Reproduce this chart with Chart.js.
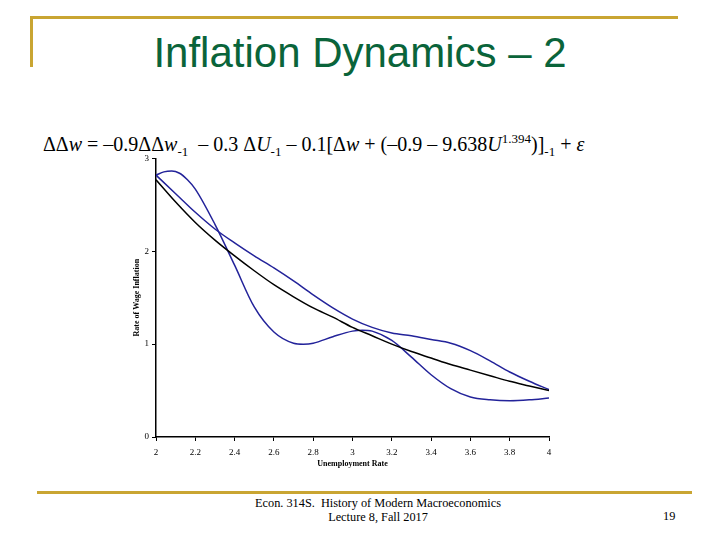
<!DOCTYPE html>
<html>
<head>
<meta charset="utf-8">
<script src="https://cdn.jsdelivr.net/npm/chart.js@4/dist/chart.umd.min.js"></script>
<style>
  body { margin: 0; background: #fff; }
  #slide { position: relative; width: 720px; height: 540px; overflow: hidden; background: #fff; }
  .gold { position: absolute; background: #c9a532; }
  #title { position: absolute; left: 0; width: 720px; top: 29px; text-align: center;
           font-family: "Liberation Sans", Arial, sans-serif; font-size: 42px; color: #0a643a; }
  #eq { position: absolute; left: 43px; top: 131px; font-family: "Liberation Serif", "Times New Roman", serif;
        font-size: 20px; color: #000; white-space: nowrap; }
  #eq sub, #eq sup { font-size: 13px; }
  #eq i { font-style: italic; }
  #chartBox { position: absolute; left: 120px; top: 150px; width: 440px; height: 325px; }
  .foot { position: absolute; font-family: "Liberation Serif", "Times New Roman", serif; font-size: 12.3px; color: #000; }
</style>
</head>
<body>
<div id="slide">
  <div class="gold" style="left:30px; top:16px; width:648px; height:3px;"></div>
  <div class="gold" style="left:30px; top:16px; width:3px; height:51px;"></div>
  <div id="title">Inflation Dynamics – 2</div>
  <div id="eq">ΔΔ<i>w</i> = –0.9ΔΔ<i>w</i><sub>-1</sub> &nbsp;– 0.3 Δ<i>U</i><sub>-1</sub> – 0.1[Δ<i>w</i> + (–0.9 – 9.638<i>U</i><sup>1.394</sup>)]<sub>-1</sub> + <i>ε</i></div>
  <div id="chartBox"><canvas id="chart01" width="440" height="325"></canvas></div>
  <div class="gold" style="left:37px; top:491px; width:655px; height:3px;"></div>
  <div class="foot" style="left:0; width:756px; top:496px; text-align:center;">Econ. 314S.&nbsp; History of Modern Macroeconomics</div>
  <div class="foot" style="left:0; width:756px; top:510px; text-align:center;">Lecture 8, Fall 2017</div>
  <div class="foot" style="left:663px; top:509px;">19</div>
</div>
<script>
// unemployment rate grid used for the smooth curves
var uGrid = [2.0, 2.1, 2.2, 2.3, 2.4, 2.5, 2.6, 2.7, 2.8, 2.9, 3.0, 3.1, 3.2, 3.3, 3.4, 3.5, 3.6, 3.7, 3.8, 3.9, 4.0];
// black curve (steady state)
var steady = [2.77, 2.53, 2.31, 2.12, 1.95, 1.79, 1.64, 1.51, 1.39, 1.29, 1.18, 1.09, 1.00, 0.92, 0.85, 0.78, 0.72, 0.66, 0.60, 0.55, 0.50];
// upper blue path
var upperPath = [2.82, 2.62, 2.42, 2.24, 2.09, 1.95, 1.82, 1.68, 1.53, 1.39, 1.27, 1.18, 1.12, 1.09, 1.05, 1.01, 0.93, 0.82, 0.70, 0.60, 0.51];
// wavy blue path
var wavyU = [2.0, 2.04, 2.08, 2.12, 2.16, 2.2, 2.3, 2.4, 2.5, 2.6, 2.7, 2.75, 2.8, 2.9, 3.0, 3.05, 3.1, 3.2, 3.3, 3.4, 3.5, 3.6, 3.7, 3.8, 3.9, 4.0];
var wavyPath = [2.82, 2.855, 2.865, 2.84, 2.77, 2.67, 2.29, 1.85, 1.40, 1.13, 1.01, 1.00, 1.01, 1.08, 1.14, 1.15, 1.14, 1.04, 0.86, 0.67, 0.52, 0.43, 0.40, 0.39, 0.40, 0.42];

var xTicks = [2, 2.2, 2.4, 2.6, 2.8, 3, 3.2, 3.4, 3.6, 3.8, 4];
var yTicks = [0, 1, 2, 3];

function toPoints(xs, ys){
  var temp = [];
  for (var i = 0; i < xs.length; i++){
    temp.push({x: xs[i], y: ys[i]});
  }
  return temp;
}

function lineSet(pts, color){
  return {
    data: pts,
    borderColor: color,
    borderWidth: 1.5,
    pointRadius: 0,
    showLine: true,
    fill: false,
    cubicInterpolationMode: 'monotone'
  };
}

var tickFont = {family: "Liberation Serif", size: 9};
var titleFont = {family: "Liberation Serif", size: 8, weight: 'bold'};

var ctx = document.getElementById('chart01').getContext('2d');
var myChart = new Chart(ctx, {
  type: 'scatter',
  data: {
    datasets: [
      lineSet(toPoints(uGrid, steady), '#000000'),
      lineSet(toPoints(uGrid, upperPath), '#23239a'),
      lineSet(toPoints(wavyU, wavyPath), '#23239a')
    ]
  },
  options: {
    responsive: false,
    animation: false,
    layout: {padding: {top: 8, right: 11, left: 0, bottom: 6}},
    plugins: {legend: {display: false}, tooltip: {enabled: false}},
    scales: {
      x: {
        type: 'linear', min: 2, max: 4,
        afterBuildTicks: function(s){ s.ticks = xTicks.map(function(v){ return {value: v}; }); },
        afterFit: function(s){ s.height = 32; },
        grid: {drawOnChartArea: false, drawTicks: true, tickLength: 4, color: '#000'},
        border: {display: true, color: '#000', width: 1.5},
        ticks: {font: tickFont, color: '#000', padding: 6, maxRotation: 0,
                callback: function(v){ return String(Math.round(v * 10) / 10); }},
        title: {display: true, text: 'Unemployment Rate', font: titleFont, color: '#000', padding: {top: 0, bottom: 0}}
      },
      y: {
        type: 'linear', min: 0, max: 3,
        afterBuildTicks: function(s){ s.ticks = yTicks.map(function(v){ return {value: v}; }); },
        afterFit: function(s){ s.width = 36; },
        grid: {drawOnChartArea: false, drawTicks: true, tickLength: 4, color: '#000'},
        border: {display: true, color: '#000', width: 1.5},
        ticks: {font: tickFont, color: '#000', padding: 3},
        title: {display: true, text: 'Rate of Wage Inflation', font: titleFont, color: '#000', padding: {top: 12, bottom: 4}}
      }
    }
  }
});
</script>
</body>
</html>
